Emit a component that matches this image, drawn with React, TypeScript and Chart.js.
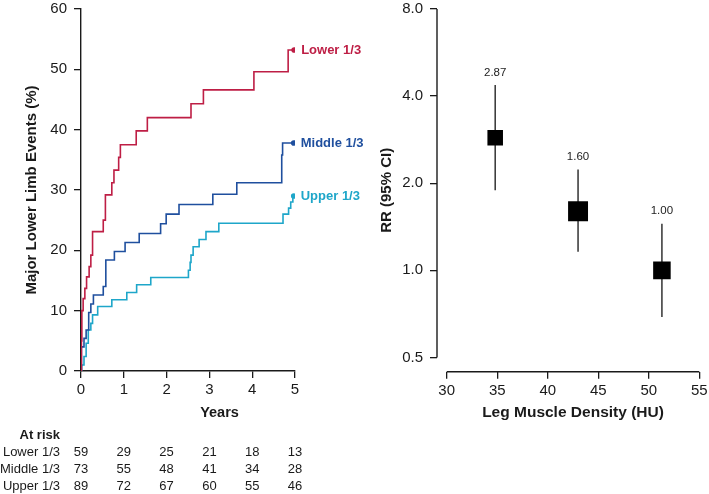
import React, { useEffect, useRef } from "react";
import { Chart, registerables } from "chart.js";

Chart.register(...registerables);

const FONT = "'Liberation Sans', Arial, Helvetica, sans-serif";
const INK = "#1a1a1a";

// ---------- Left panel: cumulative incidence (step curves) ----------
const yearTicks = [0, 1, 2, 3, 4, 5];
const eventTicks = [0, 10, 20, 30, 40, 50, 60];

const groupNames = ["Lower 1/3", "Middle 1/3", "Upper 1/3"];
const groupColors = ["#be1e45", "#1f4f9e", "#1ea6c9"];

const lowerTimes = [0, 0.01, 0.02, 0.05, 0.09, 0.13, 0.19, 0.23, 0.27, 0.52, 0.57, 0.72, 0.77, 0.88, 0.92, 1.29, 1.55, 2.57, 2.86, 4.04, 4.84, 4.98];
const lowerEvents = [0, 5, 10, 12.0, 13.7, 15.6, 17.3, 19.2, 23.1, 25.0, 29.2, 31.2, 33.3, 35.4, 37.5, 39.8, 42.0, 44.3, 46.6, 49.6, 53.2, 53.2];

const middleTimes = [0, 0.01, 0.07, 0.12, 0.18, 0.23, 0.29, 0.52, 0.58, 0.78, 1.03, 1.36, 1.86, 1.99, 2.29, 3.08, 3.64, 4.69, 4.71, 4.97];
const middleEvents = [0, 4.0, 5.4, 6.8, 9.7, 11.1, 12.6, 14.0, 18.4, 19.8, 21.3, 22.8, 24.4, 26.0, 27.6, 29.3, 31.2, 35.8, 37.8, 37.8];

const upperTimes = [0, 0.015, 0.07, 0.12, 0.17, 0.23, 0.27, 0.39, 0.72, 1.07, 1.3, 1.63, 2.51, 2.55, 2.57, 2.62, 2.76, 2.92, 3.22, 4.72, 4.85, 4.9, 4.95, 4.97];
const upperEvents = [0, 1.0, 2.4, 4.6, 6.8, 7.9, 9.3, 10.7, 11.8, 13.0, 14.3, 15.5, 16.7, 18.0, 19.2, 20.6, 21.8, 23.1, 24.5, 26.0, 27.0, 28.0, 29.0, 29.0];

const atRiskTitle = "At risk";
const atRiskLower = [59, 29, 25, 21, 18, 13];
const atRiskMiddle = [73, 55, 48, 41, 34, 28];
const atRiskUpper = [89, 72, 67, 60, 55, 46];

// ---------- Right panel: RR by leg muscle density ----------
const huTicks = [30, 35, 40, 45, 50, 55];
const rrTicks = [0.5, 1, 2, 4, 8];
const huValues = [34.8, 43.0, 51.3];
const rrValues = [2.87, 1.6, 1.0];
const rrLower = [1.89, 1.16, 0.69];
const rrUpper = [4.37, 2.23, 1.45];
const rrLabels = ["2.87", "1.60", "1.00"];
const markerRadius = [11, 14.1, 12.4];

const zip = (xs: number[], ys: number[]) => xs.map((x, i) => ({ x, y: ys[i] }));

const noVPad = (s: any) => {
  s.paddingTop = 0;
  s.paddingBottom = 0;
};
const noHPad = (s: any) => {
  s.paddingLeft = 0;
  s.paddingRight = 0;
};

const kmPlugin = {
  id: "kmExtras",
  afterDraw(chart: any) {
    const { ctx } = chart;
    const xs = chart.scales.x;
    const ys = chart.scales.y;
    ctx.save();
    // curve end labels
    chart.data.datasets.forEach((ds: any, i: number) => {
      const last = ds.data[ds.data.length - 1];
      ctx.font = `bold 13px ${FONT}`;
      ctx.fillStyle = groupColors[i];
      ctx.textAlign = "left";
      ctx.textBaseline = "middle";
      ctx.fillText(groupNames[i], xs.getPixelForValue(last.x) + 7, ys.getPixelForValue(last.y) + 0.5);
    });
    // x title
    ctx.fillStyle = INK;
    ctx.font = `bold 14.5px ${FONT}`;
    ctx.textAlign = "center";
    ctx.textBaseline = "middle";
    ctx.fillText("Years", xs.getPixelForValue(3.236), 413);
    // at-risk table
    const labelRight = 60;
    ctx.textAlign = "right";
    ctx.font = `bold 13px ${FONT}`;
    ctx.fillText(atRiskTitle, labelRight, 435);
    const rows = [atRiskLower, atRiskMiddle, atRiskUpper];
    const rowY = [452, 469, 486];
    rows.forEach((row, r) => {
      ctx.font = `13px ${FONT}`;
      ctx.textAlign = "right";
      ctx.fillText(groupNames[r], labelRight, rowY[r]);
      ctx.textAlign = "center";
      row.forEach((n, c) => {
        ctx.fillText(String(n), xs.getPixelForValue(yearTicks[c]), rowY[r]);
      });
    });
    ctx.restore();
  },
};

const rrPlugin = {
  id: "rrExtras",
  beforeDatasetsDraw(chart: any) {
    const { ctx } = chart;
    const xs = chart.scales.x;
    const ys = chart.scales.y;
    ctx.save();
    ctx.strokeStyle = INK;
    ctx.lineWidth = 1.4;
    // axis lines (detached, R style)
    const ax = chart.chartArea.left;
    ctx.beginPath();
    ctx.moveTo(ax, ys.getPixelForValue(rrTicks[0]));
    ctx.lineTo(ax, ys.getPixelForValue(rrTicks[rrTicks.length - 1]));
    ctx.stroke();
    const ay = chart.chartArea.bottom;
    ctx.beginPath();
    ctx.moveTo(xs.getPixelForValue(huTicks[0]), ay);
    ctx.lineTo(xs.getPixelForValue(huTicks[huTicks.length - 1]), ay);
    ctx.stroke();
    // confidence intervals
    ctx.strokeStyle = "#333";
    ctx.lineWidth = 1.5;
    huValues.forEach((hu, i) => {
      const x = xs.getPixelForValue(hu);
      ctx.beginPath();
      ctx.moveTo(x, ys.getPixelForValue(rrUpper[i]));
      ctx.lineTo(x, ys.getPixelForValue(rrLower[i]));
      ctx.stroke();
    });
    ctx.restore();
  },
  afterDraw(chart: any) {
    const { ctx } = chart;
    const xs = chart.scales.x;
    const ys = chart.scales.y;
    ctx.save();
    ctx.fillStyle = "#222";
    ctx.font = `11.5px ${FONT}`;
    ctx.textAlign = "center";
    ctx.textBaseline = "middle";
    huValues.forEach((hu, i) => {
      ctx.fillText(rrLabels[i], xs.getPixelForValue(hu), ys.getPixelForValue(rrUpper[i]) - 12.5);
    });
    ctx.fillStyle = INK;
    ctx.font = `bold 15.5px ${FONT}`;
    const cx = (xs.getPixelForValue(huTicks[0]) + xs.getPixelForValue(huTicks[huTicks.length - 1])) / 2;
    ctx.fillText("Leg Muscle Density (HU)", cx, 413);
    ctx.restore();
  },
};

function KMChart() {
  const ref = useRef<HTMLCanvasElement | null>(null);
  useEffect(() => {
    if (!ref.current) return;
    const series = [zip(lowerTimes, lowerEvents), zip(middleTimes, middleEvents), zip(upperTimes, upperEvents)];
    const chart = new Chart(ref.current, {
      type: "line",
      data: {
        datasets: series.map((data, i) => ({
          label: groupNames[i],
          data,
          stepped: true,
          borderColor: groupColors[i],
          backgroundColor: groupColors[i],
          borderWidth: 1.6,
          fill: false,
          pointStyle: "circle",
          pointRadius: (c: any) => (c.dataIndex === data.length - 1 ? 2.8 : 0),
          pointBorderWidth: 0,
        })),
      },
      options: {
        animation: false,
        responsive: false,
        layout: { autoPadding: false, padding: { top: 9, right: 85, left: 0, bottom: 0 } },
        plugins: { legend: { display: false }, tooltip: { enabled: false } },
        scales: {
          x: {
            type: "linear",
            min: 0,
            max: 5,
            afterBuildTicks: (s: any) => {
              s.ticks = yearTicks.map((v) => ({ value: v }));
            },
            afterFit: (s: any) => {
              s.height = 123;
              noHPad(s);
            },
            border: { display: true, color: INK, width: 1.4 },
            grid: { display: true, drawOnChartArea: false, drawTicks: true, tickLength: 7, color: INK, lineWidth: 1.3 },
            ticks: { color: INK, font: { family: FONT, size: 15 }, padding: 3, maxRotation: 0 },
          },
          y: {
            type: "linear",
            min: 0,
            max: 60,
            afterBuildTicks: (s: any) => {
              s.ticks = eventTicks.map((v) => ({ value: v }));
            },
            afterFit: (s: any) => {
              s.width = 81;
              noVPad(s);
            },
            border: { display: true, color: INK, width: 1.4 },
            grid: { display: true, drawOnChartArea: false, drawTicks: true, tickLength: 7, color: INK, lineWidth: 1.3 },
            ticks: { color: INK, font: { family: FONT, size: 15 }, padding: 7 },
            title: {
              display: true,
              text: "Major Lower Limb Events (%)",
              color: INK,
              font: { family: FONT, size: 15, weight: "bold" },
              padding: { top: 23, bottom: 0 },
            },
          },
        },
      },
      plugins: [kmPlugin],
    } as any);
    return () => chart.destroy();
  }, []);
  return <canvas ref={ref} width={380} height={494} style={{ position: "absolute", left: 0, top: 0, width: 380, height: 494 }} />;
}

function RRChart() {
  const ref = useRef<HTMLCanvasElement | null>(null);
  useEffect(() => {
    if (!ref.current) return;
    const chart = new Chart(ref.current, {
      type: "scatter",
      data: {
        datasets: [
          {
            label: "RR",
            data: zip(huValues, rrValues),
            pointStyle: "rect",
            pointRadius: markerRadius,
            backgroundColor: "#000",
            borderColor: "#000",
            borderWidth: 0,
          },
        ],
      },
      options: {
        animation: false,
        responsive: false,
        layout: { autoPadding: false, padding: { top: 9, right: 9.7, left: 0, bottom: 0 } },
        plugins: { legend: { display: false }, tooltip: { enabled: false } },
        scales: {
          x: {
            type: "linear",
            min: 29.04,
            max: 55,
            afterBuildTicks: (s: any) => {
              s.ticks = huTicks.map((v) => ({ value: v }));
            },
            afterFit: (s: any) => {
              s.height = 122.3;
              noHPad(s);
            },
            border: { display: false },
            grid: { display: true, drawOnChartArea: false, drawTicks: true, tickLength: 7, color: INK, lineWidth: 1.3 },
            ticks: { color: INK, font: { family: FONT, size: 15 }, padding: 3.5, maxRotation: 0 },
          },
          y: {
            type: "logarithmic",
            min: 0.4465,
            max: 8,
            afterBuildTicks: (s: any) => {
              s.ticks = rrTicks.map((v) => ({ value: v }));
            },
            afterFit: (s: any) => {
              s.width = 67;
              noVPad(s);
            },
            border: { display: false },
            grid: { display: true, drawOnChartArea: false, drawTicks: true, tickLength: 7, color: INK, lineWidth: 1.3 },
            ticks: {
              color: INK,
              font: { family: FONT, size: 15 },
              padding: 7,
              callback: (v: any) => Number(v).toFixed(1),
            },
            title: {
              display: true,
              text: "RR (95% CI)",
              color: INK,
              font: { family: FONT, size: 15, weight: "bold" },
              padding: { top: 8, bottom: 0 },
            },
          },
        },
      },
      plugins: [rrPlugin],
    } as any);
    return () => chart.destroy();
  }, []);
  return <canvas ref={ref} width={339} height={494} style={{ position: "absolute", left: 370, top: 0, width: 339, height: 494 }} />;
}

export default function App() {
  return (
    <div style={{ position: "absolute", left: 0, top: 0, width: 709, height: 494, background: "#fff", overflow: "hidden" }}>
      <KMChart />
      <RRChart />
    </div>
  );
}
